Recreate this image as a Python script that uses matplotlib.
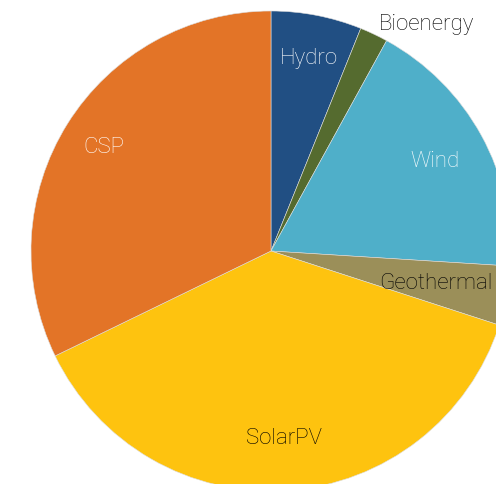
import numpy as np
import matplotlib
matplotlib.use("Agg")
import matplotlib.pyplot as plt

# shares (percent of total)
labels = ["Hydro", "Bioenergy", "Wind", "Geothermal", "SolarPV", "CSP"]
shares = [6.1, 1.9, 18.0, 4.0, 37.8, 32.2]
colors = ["#214f83", "#556b2f", "#4fafc9", "#9b8f59", "#fec30f", "#e37427"]
text_colors = ["#ffffff", "#000000", "#ffffff", "#000000", "#000000", "#ffffff"]
label_dist = [0.82, 1.05, 0.78, 0.70, 0.78, 0.82]

W, H = 496, 485
cx, cy, r = 271, 252, 240

fig = plt.figure(figsize=(W / 100, H / 100), dpi=100)
ax = fig.add_axes([0, 0, 1, 1])

wedges, _ = ax.pie(shares, colors=colors, startangle=90, counterclock=False,
                   radius=r, center=(0, 0), frame=True,
                   wedgeprops=dict(linewidth=0.4, edgecolor="#dddddd"))
ax.set_xlim(-cx, W - cx)
ax.set_ylim(-(H - cy), cy)
ax.axis("off")

for w, lab, tc, d in zip(wedges, labels, text_colors, label_dist):
    mid = np.deg2rad((w.theta1 + w.theta2) / 2)
    x, y = d * r * np.cos(mid), d * r * np.sin(mid)
    ha = "left" if d > 1 else "center"
    ax.text(x, y, lab, ha=ha, va="center", color=tc, fontsize=16,
            family=["Roboto", "DejaVu Sans"], fontweight="light")

fig.savefig("out.png", dpi=100)
